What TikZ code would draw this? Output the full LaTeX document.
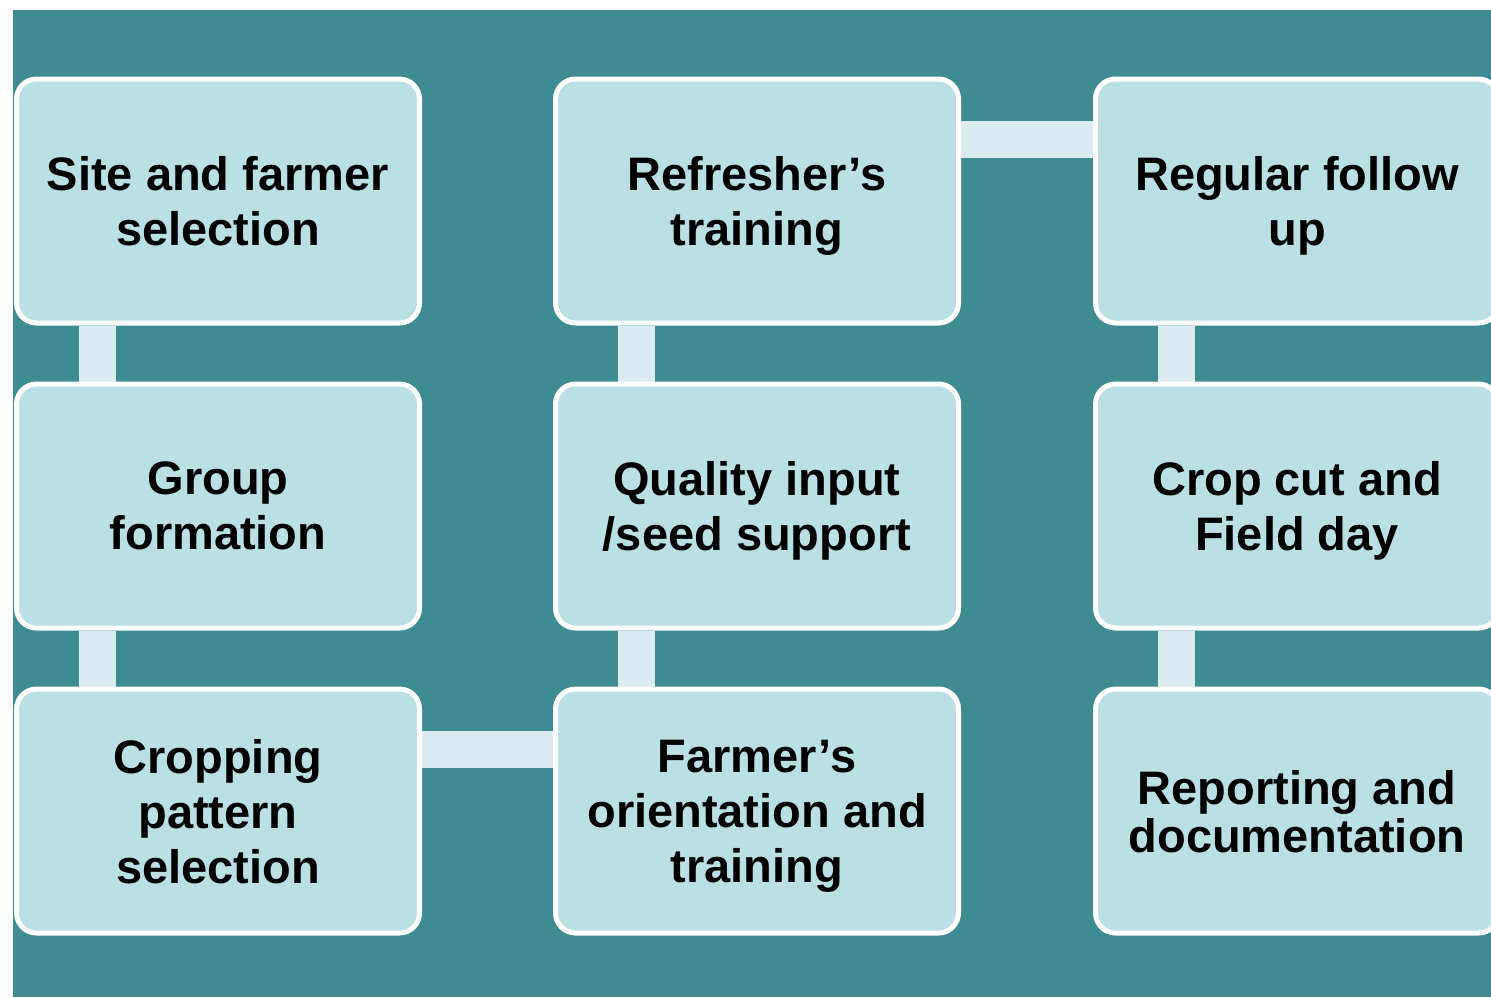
\documentclass[tikz,border=0pt]{standalone}
\usepackage{fontspec}
\setmainfont{Liberation Sans}
\usetikzlibrary{backgrounds}
\definecolor{tealbg}{RGB}{62,139,145}
\definecolor{boxfill}{RGB}{186,224,227}
\definecolor{barfill}{RGB}{218,236,239}
\tikzset{
  stepbox/.style={draw=white, line width=2.5pt, fill=boxfill, rounded corners=10pt,
    minimum width=201.5pt, minimum height=122pt, inner sep=0pt, align=center,
    text depth=0pt, font=\fontsize{23.5}{27.5}\selectfont\bfseries},
  bar/.style={draw=barfill, line width=18.5pt}
}
\begin{document}
\begin{tikzpicture}[x=0.5pt,y=-0.5pt]
\useasboundingbox (0,0) rectangle (1491,997);

\draw (218,201) node(SITE)[stepbox]{Site and farmer\\selection};
\draw (218,506) node(GROUP)[stepbox]{Group\\formation};
\draw (218,811) node(CROP)[stepbox]{Cropping\\pattern\\selection};
\draw (757,811) node(ORIENT)[stepbox]{Farmer’s\\orientation and\\training};
\draw (757,506) node(INPUT)[stepbox]{Quality input\\/seed support};
\draw (757,201) node(REFRESH)[stepbox]{Refresher’s\\training};
\draw (1297,201) node(FOLLOW)[stepbox]{Regular follow\\up};
\draw (1297,506) node(FIELD)[stepbox]{Crop cut and\\Field day};
\draw (1297,811) node(REPORT)[stepbox,font=\fontsize{23.5}{24}\selectfont\bfseries]{Reporting and\\documentation};

\begin{scope}[on background layer]
\fill[white] (0,0) rectangle (1491,997);
\fill[tealbg] (13,10) rectangle (1491,997);
\draw[bar] ([xshift=-60.5pt]SITE.south) -- ([xshift=-60.5pt]GROUP.north);
\draw[bar] ([xshift=-60.5pt]GROUP.south) -- ([xshift=-60.5pt]CROP.north);
\draw[bar] ([yshift=31pt]CROP.east) -- ([yshift=31pt]ORIENT.west);
\draw[bar] ([xshift=-60.5pt]ORIENT.north) -- ([xshift=-60.5pt]INPUT.south);
\draw[bar] ([xshift=-60.5pt]INPUT.north) -- ([xshift=-60.5pt]REFRESH.south);
\draw[bar] ([yshift=31pt]REFRESH.east) -- ([yshift=31pt]FOLLOW.west);
\draw[bar] ([xshift=-60.5pt]FOLLOW.south) -- ([xshift=-60.5pt]FIELD.north);
\draw[bar] ([xshift=-60.5pt]FIELD.south) -- ([xshift=-60.5pt]REPORT.north);
\end{scope}

\end{tikzpicture}
\end{document}
